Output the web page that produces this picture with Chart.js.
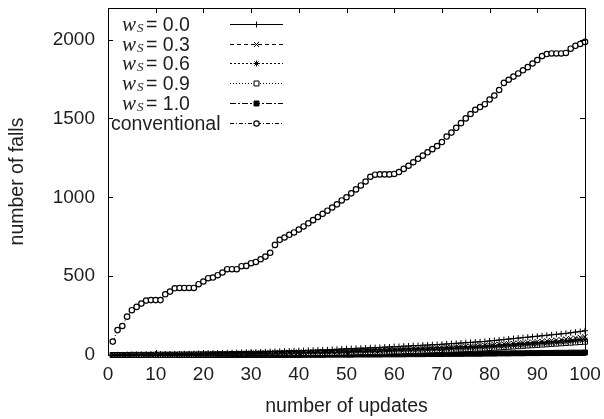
<!DOCTYPE html>
<html>
<head>
<meta charset="utf-8">
<script src="https://cdn.jsdelivr.net/npm/chart.js@4"></script>
<style>
html, body { margin: 0; padding: 0; background: #fff; }
canvas { display: block; }
</style>
</head>
<body>
<canvas id="c" width="604" height="419"></canvas>
<script>
// x values (number of updates)
const updates = [
  1, 2, 3, 4, 5, 6, 7, 8, 9, 10,
  11, 12, 13, 14, 15, 16, 17, 18, 19, 20,
  21, 22, 23, 24, 25, 26, 27, 28, 29, 30,
  31, 32, 33, 34, 35, 36, 37, 38, 39, 40,
  41, 42, 43, 44, 45, 46, 47, 48, 49, 50,
  51, 52, 53, 54, 55, 56, 57, 58, 59, 60,
  61, 62, 63, 64, 65, 66, 67, 68, 69, 70,
  71, 72, 73, 74, 75, 76, 77, 78, 79, 80,
  81, 82, 83, 84, 85, 86, 87, 88, 89, 90,
  91, 92, 93, 94, 95, 96, 97, 98, 99, 100
]

// number of falls
const ws00 = [
  0, 1, 1, 2, 2, 3, 3, 4, 4, 5,
  5, 6, 6, 7, 7, 8, 8, 9, 10, 10,
  11, 12, 12, 13, 14, 14, 15, 16, 17, 18,
  18, 19, 20, 21, 22, 23, 24, 25, 26, 27,
  28, 29, 30, 31, 32, 33, 35, 36, 38, 40,
  41, 42, 43, 44, 46, 47, 48, 50, 51, 53,
  54, 56, 57, 59, 60, 62, 63, 65, 66, 68,
  70, 72, 74, 76, 78, 80, 82, 84, 86, 89,
  92, 95, 98, 101, 104, 107, 110, 113, 116, 119,
  122, 125, 128, 131, 134, 137, 141, 145, 149, 154
]
const ws03 = [
  0, 0, 1, 1, 1, 2, 2, 2, 3, 3,
  3, 4, 4, 4, 5, 5, 5, 6, 6, 7,
  7, 8, 8, 9, 9, 10, 10, 11, 11, 12,
  12, 13, 13, 14, 15, 15, 16, 17, 17, 18,
  19, 19, 20, 21, 22, 22, 23, 24, 25, 26,
  27, 28, 29, 30, 31, 32, 33, 34, 35, 36,
  37, 38, 39, 40, 41, 42, 44, 45, 46, 47,
  49, 50, 52, 53, 55, 56, 58, 60, 62, 64,
  66, 68, 70, 72, 74, 76, 78, 80, 82, 85,
  87, 89, 92, 95, 98, 101, 104, 108, 112, 116
]
const ws06 = [
  0, 0, 0, 1, 1, 1, 1, 2, 2, 2,
  2, 3, 3, 3, 3, 4, 4, 4, 5, 5,
  5, 6, 6, 6, 7, 7, 7, 8, 8, 9,
  9, 10, 10, 11, 11, 12, 12, 13, 13, 14,
  14, 15, 15, 16, 16, 17, 18, 18, 19, 20,
  21, 21, 22, 23, 24, 25, 25, 26, 27, 28,
  29, 30, 31, 32, 33, 34, 35, 36, 37, 38,
  39, 40, 41, 42, 44, 45, 46, 48, 49, 51,
  53, 55, 57, 59, 61, 63, 65, 67, 69, 71,
  73, 75, 77, 79, 81, 84, 87, 90, 93, 96
]
const ws09 = [
  0, 0, 0, 0, 1, 1, 1, 1, 1, 2,
  2, 2, 2, 2, 3, 3, 3, 3, 4, 4,
  4, 4, 5, 5, 5, 6, 6, 6, 7, 7,
  7, 8, 8, 8, 9, 9, 10, 10, 10, 11,
  11, 12, 12, 13, 13, 14, 14, 15, 15, 16,
  17, 17, 18, 18, 19, 20, 20, 21, 22, 23,
  23, 24, 25, 26, 27, 28, 29, 30, 31, 32,
  33, 34, 35, 36, 37, 38, 40, 41, 42, 44,
  46, 48, 50, 52, 54, 56, 58, 60, 62, 64,
  66, 68, 70, 72, 74, 76, 78, 80, 82, 84
]
const ws10 = [
  0, 0, 0, 0, 0, 0, 0, 0, 0, 0,
  0, 0, 0, 0, 0, 0, 0, 0, 0, 0,
  0, 0, 0, 0, 0, 0, 0, 0, 0, 0,
  0, 0, 0, 0, 0, 0, 0, 0, 0, 0,
  1, 1, 1, 1, 1, 2, 2, 2, 2, 2,
  2, 3, 3, 3, 3, 3, 3, 4, 4, 4,
  4, 4, 5, 5, 5, 5, 6, 6, 6, 6,
  7, 7, 7, 7, 8, 8, 8, 8, 9, 9,
  9, 10, 10, 10, 11, 11, 11, 12, 12, 12,
  13, 13, 13, 14, 14, 14, 15, 15, 15, 16
]
const conventional = [
  85, 158, 184, 243, 284, 305, 326, 345, 348, 348,
  348, 385, 402, 423, 425, 425, 425, 425, 449, 466,
  487, 491, 506, 523, 544, 544, 544, 563, 565, 582,
  590, 607, 624, 648, 698, 730, 745, 762, 777, 795,
  815, 835, 855, 875, 895, 915, 935, 955, 980, 1000,
  1025, 1050, 1075, 1100, 1130, 1143, 1145, 1145, 1145, 1148,
  1160, 1180, 1200, 1222, 1244, 1264, 1285, 1305, 1325, 1350,
  1385, 1410, 1440, 1470, 1500, 1528, 1555, 1572, 1590, 1620,
  1645, 1680, 1725, 1745, 1765, 1785, 1805, 1825, 1848, 1870,
  1895, 1908, 1912, 1912, 1912, 1915, 1942, 1960, 1972, 1985
]

const wsLabels = ['0.0', '0.3', '0.6', '0.9', '1.0']
const xTicks = [0, 10, 20, 30, 40, 50, 60, 70, 80, 90, 100]
const yTicks = [0, 500, 1000, 1500, 2000]

const ink = '#000'
const textInk = '#1e1e1e'
const sans = 'Liberation Sans'

function pts(vals) {
  return vals.map((v, i) => ({ x: updates[i], y: v }))
}

function series(label, vals, dash, pointStyle, radius, fill, pw) {
  return {
    label: label,
    data: pts(vals),
    borderColor: ink,
    borderWidth: 1,
    borderDash: dash,
    pointStyle: pointStyle,
    pointRadius: radius,
    pointHoverRadius: radius,
    pointBorderColor: ink,
    pointBorderWidth: pw || 1,
    pointBackgroundColor: fill,
    backgroundColor: fill,
    tension: 0,
    clip: false
  }
}

const datasets = [
  series('ws=0.0', ws00, [], 'cross', 3, ink),
  series('ws=0.3', ws03, [4, 3], 'crossRot', 3.5, ink),
  series('ws=0.6', ws06, [2, 2], 'star', 3, ink),
  series('ws=0.9', ws09, [1, 2], 'rect', 3.5, '#fff'),
  series('ws=1.0', ws10, [6, 2, 2, 2], 'rect', 3.5, ink),
  series('conventional', conventional, [4, 2, 1, 2], 'circle', 2.7, '#fff', 1.2)
]

// gnuplot style frame with inward ticks on all four sides
const frame = {
  id: 'frame',
  afterDatasetsDraw(chart) {
    const { ctx, chartArea: a, scales } = chart
    const len = 5
    ctx.save()
    ctx.strokeStyle = ink
    ctx.lineWidth = 1
    ctx.setLineDash([])
    ctx.beginPath()
    xTicks.forEach(v => {
      const px = Math.round(scales.x.getPixelForValue(v)) + 0.5
      ctx.moveTo(px, a.bottom); ctx.lineTo(px, a.bottom - len)
      ctx.moveTo(px, a.top); ctx.lineTo(px, a.top + len)
    })
    yTicks.forEach(v => {
      const py = Math.round(scales.y.getPixelForValue(v)) + 0.5
      ctx.moveTo(a.left, py); ctx.lineTo(a.left + len, py)
      ctx.moveTo(a.right, py); ctx.lineTo(a.right - len, py)
    })
    ctx.stroke()
    ctx.strokeRect(Math.round(a.left) + 0.5, Math.round(a.top) + 0.5,
      Math.round(a.right - a.left), Math.round(a.bottom - a.top))
    ctx.restore()
  }
}

// key in the upper left corner, like gnuplot draws it
const key = {
  id: 'key',
  afterDraw(chart) {
    const ctx = chart.ctx
    const a = chart.chartArea
    const rowTop = a.top + 16
    const rowStep = 19.7
    const sx0 = a.left + 122
    const sx1 = a.left + 175
    ctx.save()
    chart.data.datasets.forEach((ds, i) => {
      const y = rowTop + i * rowStep
      const base = y + 7
      ctx.fillStyle = textInk
      ctx.textBaseline = 'alphabetic'
      ctx.textAlign = 'left'
      if (i < wsLabels.length) {
        ctx.font = 'italic 21px "Liberation Serif"'
        ctx.fillText('w', a.left + 14, base)
        ctx.font = 'italic 13px "Liberation Serif"'
        ctx.fillText('S', a.left + 29, base + 1)
        ctx.font = '19.5px "' + sans + '"'
        ctx.fillText('= ' + wsLabels[i], a.left + 38, base)
      } else {
        ctx.font = '19.5px "' + sans + '"'
        ctx.fillText(ds.label, a.left + 3, base)
      }
      ctx.strokeStyle = ink
      ctx.lineWidth = 1
      ctx.setLineDash(ds.borderDash)
      ctx.beginPath()
      ctx.moveTo(sx0, Math.round(y) + 0.5)
      ctx.lineTo(sx1, Math.round(y) + 0.5)
      ctx.stroke()
      ctx.setLineDash([])
      const opts = {
        pointStyle: ds.pointStyle,
        radius: ds.pointRadius,
        rotation: 0,
        borderWidth: ds.pointBorderWidth
      }
      ctx.fillStyle = ds.pointBackgroundColor
      ctx.strokeStyle = ink
      ctx.lineWidth = ds.pointBorderWidth
      Chart.helpers.drawPoint(ctx, opts, (sx0 + sx1) / 2, Math.round(y) + 0.5)
    })
    ctx.restore()
  }
}

new Chart(document.getElementById('c'), {
  type: 'line',
  data: { datasets: datasets },
  options: {
    responsive: false,
    animation: false,
    events: [],
    layout: { padding: { left: 0, right: 19, top: 8, bottom: 0 } },
    plugins: {
      legend: { display: false },
      tooltip: { enabled: false }
    },
    scales: {
      x: {
        type: 'linear',
        min: 0,
        max: 100,
        afterBuildTicks: s => { s.ticks = xTicks.map(v => ({ value: v })) },
        afterFit: s => { s.height = 64; s.paddingLeft = 0; s.paddingRight = 0 },
        grid: { display: false, drawTicks: false },
        border: { display: false },
        ticks: {
          color: textInk,
          font: { family: sans, size: 19 },
          padding: 8,
          maxRotation: 0,
          autoSkip: false,
          callback: v => String(v)
        },
        title: {
          display: true,
          text: 'number of updates',
          color: textInk,
          font: { family: sans, size: 19.5 },
          padding: { top: 0, bottom: 1 }
        }
      },
      y: {
        type: 'linear',
        min: 0,
        max: 2200,
        afterBuildTicks: s => { s.ticks = yTicks.map(v => ({ value: v })) },
        afterFit: s => { s.width = 108; s.paddingTop = 0; s.paddingBottom = 0 },
        grid: { display: false, drawTicks: false },
        border: { display: false },
        ticks: {
          color: textInk,
          font: { family: sans, size: 19 },
          padding: 13,
          callback: v => String(v)
        },
        title: {
          display: true,
          text: 'number of falls',
          color: textInk,
          font: { family: sans, size: 19.5 },
          padding: { top: 6, bottom: 0 }
        }
      }
    }
  },
  plugins: [frame, key]
})
</script>
</body>
</html>
